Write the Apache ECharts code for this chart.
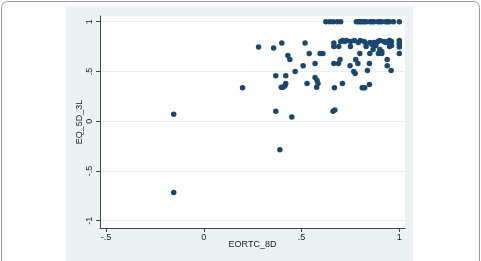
<!DOCTYPE html>
<html>
<head>
<meta charset="utf-8">
<script src="https://cdn.jsdelivr.net/npm/echarts@6/dist/echarts.min.js"></script>
<style>
  html, body { margin: 0; padding: 0; background: #fff; }
  #chart { width: 481px; height: 261px; }
</style>
</head>
<body>
<div id="chart"></div>
<script>
// EORTC_8D vs EQ_5D_3L
var xTicks = [-0.5, 0, 0.5, 1];
var yTicks = [-1, -0.5, 0, 0.5, 1];

var eortc = [
  -0.154, -0.154, 0.198, 0.28, 0.357, 0.399, 0.368, 0.368, 0.389, 0.419,
  0.43, 0.44, 0.419, 0.396, 0.405, 0.415, 0.45, 0.467, 0.508, 0.518,
  0.539, 0.528, 0.569, 0.569, 0.579, 0.584, 0.577, 0.595, 0.609,
  0.624, 0.644, 0.661, 0.682, 0.70, 0.78, 0.79, 0.80, 0.81, 0.82,
  0.83, 0.85, 0.86, 0.87, 0.89, 0.90, 0.91, 0.93, 0.94, 0.95, 0.97, 1.0,
  0.665, 0.665, 0.69, 0.70, 0.71, 0.73, 0.75, 0.77, 0.79, 0.80,
  0.82, 0.83, 0.85, 0.87, 0.89, 0.90, 0.92, 0.93, 0.95, 0.96,
  1.0, 1.0, 1.0, 0.95, 0.96, 0.88, 0.83, 0.75, 0.90, 0.91,
  0.665, 0.689, 0.697, 0.668, 0.709, 0.661, 0.67, 0.748, 0.767, 0.774,
  0.777, 0.788, 0.798, 0.81, 0.817, 0.823, 0.837, 0.847, 0.849, 0.847,
  0.866, 0.893, 0.91, 0.938, 0.938, 0.958, 1.0, 1.0, 0.72, 0.94, 0.86
];
var eq5d = [
  0.07, -0.716, 0.336, 0.746, 0.736, 0.786, 0.456, 0.10, -0.288, 0.456,
  0.66, 0.62, 0.38, 0.34, 0.34, 0.355, 0.043, 0.50, 0.556, 0.786,
  0.68, 0.38, 0.58, 0.44, 0.41, 0.38, 0.34, 0.68, 0.68,
  1, 1, 1, 1, 1, 1, 1, 1, 1, 1,
  1, 1, 1, 1, 1, 1, 1, 1, 1, 1, 1, 1,
  0.786, 0.75, 0.75, 0.80, 0.81, 0.81, 0.80, 0.81, 0.79, 0.81,
  0.80, 0.78, 0.79, 0.79, 0.80, 0.81, 0.80, 0.79, 0.81, 0.80,
  0.81, 0.786, 0.77, 0.75, 0.76, 0.76, 0.75, 0.75, 0.72, 0.70,
  0.58, 0.58, 0.62, 0.336, 0.38, 0.10, 0.113, 0.556, 0.50, 0.48,
  0.62, 0.58, 0.68, 0.336, 0.336, 0.336, 0.51, 0.58, 0.68, 0.37,
  0.72, 0.68, 0.68, 0.62, 0.556, 0.51, 0.746, 0.68, 0.80, 0.80, 0.77
];

var points = eortc.map(function (x, i) { return [x, eq5d[i]]; });

var fmt = function (v) {
  return String(v).replace('0.', '.');
};

var chart = echarts.init(document.getElementById('chart'));

var textColor = '#222';
var font = 'Liberation Sans, Arial, sans-serif';

chart.setOption({
  animation: false,
  backgroundColor: '#fff',
  graphic: [
    {
      type: 'rect', z: -10, silent: true,
      shape: { x: 1.5, y: 1.5, width: 478, height: 280, r: 6 },
      style: { fill: '#fff', stroke: '#9a9a9a', lineWidth: 1 }
    },
    {
      type: 'rect', z: -9, silent: true,
      shape: { x: 66, y: 7, width: 347, height: 260 },
      style: { fill: '#eaf2f3' }
    }
  ],
  grid: {
    left: 100, top: 16, width: 305, height: 212,
    show: true, backgroundColor: '#fff', borderWidth: 0
  },
  xAxis: {
    type: 'value',
    min: -0.531, max: 1.029,
    name: 'EORTC_8D',
    nameLocation: 'middle',
    nameGap: 12,
    nameMoveOverlap: false,
    nameTextStyle: { color: textColor, fontSize: 9, fontFamily: font },
    axisLine: { show: true, onZero: false, lineStyle: { color: '#444', width: 1 } },
    axisTick: { show: true, length: 4, customValues: xTicks, lineStyle: { color: '#444' } },
    axisLabel: {
      customValues: xTicks, formatter: fmt, margin: 5,
      color: textColor, fontSize: 9, fontFamily: font
    },
    splitLine: { show: false }
  },
  yAxis: {
    type: 'value',
    min: -1.073, max: 1.057,
    name: 'EQ_5D_3L',
    nameLocation: 'middle',
    nameGap: 16,
    nameMoveOverlap: false,
    nameTextStyle: { color: textColor, fontSize: 9, fontFamily: font },
    axisLine: { show: true, onZero: false, lineStyle: { color: '#444', width: 1 } },
    axisTick: { show: true, length: 4, customValues: yTicks, lineStyle: { color: '#444' } },
    axisLabel: {
      customValues: yTicks, formatter: fmt, rotate: 90, margin: 6,
      color: textColor, fontSize: 9, fontFamily: font
    },
    splitLine: { show: true, lineStyle: { color: '#e6eef0', width: 1 } }
  },
  series: [
    {
      type: 'scatter',
      data: points,
      symbol: 'circle',
      symbolSize: 5.5,
      itemStyle: { color: '#1a476f', opacity: 1 },
      z: 3
    }
  ]
});
</script>
</body>
</html>
